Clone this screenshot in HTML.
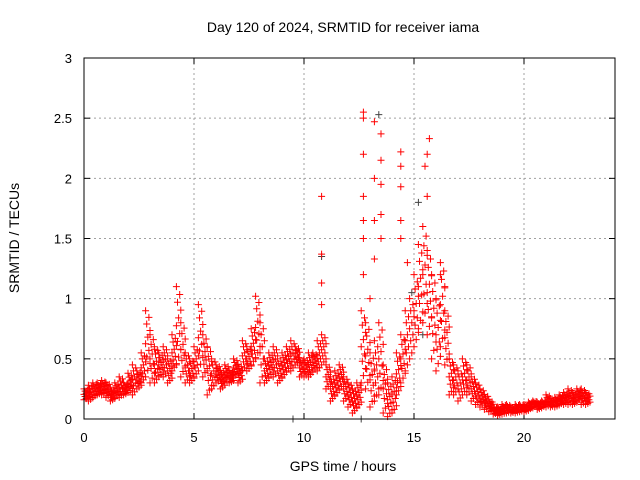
<!DOCTYPE html>
<html><head><meta charset="utf-8"><style>
body{margin:0;background:#fff}
svg{display:block;font-family:"Liberation Sans",sans-serif}
</style></head><body>
<svg id="c" width="640" height="480">
<text x="343" y="32" text-anchor="middle" font-size="14">Day 120 of 2024, SRMTID for receiver iama</text>
<text x="343" y="471" text-anchor="middle" font-size="14">GPS time / hours</text>
<text transform="translate(19,238) rotate(-90)" text-anchor="middle" font-size="14">SRMTID / TECUs</text>
<g id="grid"></g><g id="ticks"></g><g id="pts"></g>
<rect x="84" y="58" width="531" height="361" fill="none" stroke="#000" stroke-width="1"/>
</svg>
<script>
const xTicks=[0,5,10,15,20];
const yTicks=[0,0.5,1,1.5,2,2.5,3];
const yTickLabels=["0","0.5","1","1.5","2","2.5","3"];
const times=[0,0.2,0.4,0.6,0.8,1,1.2,1.4,1.6,1.8,2,2.2,2.4,2.6,2.8,3,3.2,3.4,3.6,3.8,4,4.2,4.4,4.6,4.8,5,5.2,5.4,5.6,5.8,6,6.2,6.4,6.6,6.8,7,7.2,7.4,7.6,7.8,8,8.2,8.4,8.6,8.8,9,9.2,9.4,9.6,9.8,10,10.2,10.4,10.6,10.8,11,11.2,11.4,11.6,11.8,12,12.2,12.4,12.6,12.8,13,13.2,13.4,13.6,13.8,14,14.2,14.4,14.6,14.8,15,15.2,15.4,15.6,15.8,16,16.2,16.4,16.6,16.8,17,17.2,17.4,17.6,17.8,18,18.2,18.4,18.6,18.8,19,19.2,19.4,19.6,19.8,20,20.2,20.4,20.6,20.8,21,21.2,21.4,21.6,21.8,22,22.2,22.4,22.6,22.8];
const lowVals=[.16,.15,.18,.2,.2,.18,.15,.18,.18,.2,.22,.2,.25,.3,.35,.3,.3,.35,.35,.3,.4,.45,.35,.3,.3,.35,.4,.35,.2,.25,.3,.25,.3,.3,.35,.3,.4,.4,.45,.5,.3,.3,.35,.35,.3,.35,.4,.4,.45,.35,.35,.35,.4,.4,.45,.25,.15,.2,.25,.15,.1,.05,.1,.3,.25,.1,.15,.2,.05,.02,.05,.2,.3,.4,.5,.6,.75,.8,.7,.5,.4,.6,.45,.2,.2,.15,.2,.2,.15,.12,.1,.08,.06,.04,.03,.04,.05,.05,.05,.06,.06,.08,.1,.08,.1,.1,.1,.1,.12,.12,.12,.12,.15,.12,.12];
const highVals=[.25,.28,.3,.3,.32,.3,.25,.3,.35,.3,.38,.45,.4,.55,.9,.7,.6,.55,.6,.5,.7,1.1,.8,.55,.5,.6,.95,.7,.6,.5,.45,.4,.45,.4,.5,.45,.65,.6,.75,1.02,.8,.5,.55,.6,.5,.55,.6,.65,.6,.5,.5,.55,.55,.65,.7,.45,.35,.4,.45,.35,.3,.25,.3,.9,.8,.55,.65,.8,.45,.3,.35,.55,.7,.9,1,1.2,1.45,1.6,1.4,1.2,1,1.3,.9,.5,.45,.4,.5,.45,.35,.3,.25,.2,.15,.1,.1,.12,.12,.1,.12,.12,.12,.14,.15,.14,.15,.2,.16,.18,.2,.22,.25,.22,.25,.25,.22];
const spikeTimes=[10.8,10.8,10.8,10.8,12.7,12.7,12.7,12.7,12.7,12.7,12.7,13.2,13.2,13.2,13.2,13.5,13.5,13.5,13.5,13.5,14.4,14.4,14.4,14.4,14.4,15.7,15.6,15.5,15.6,16.2,16.4,14.7,13.0];
const spikeVals=[1.85,1.37,1.13,.95,2.55,2.5,2.2,1.85,1.65,1.5,1.2,2.47,2,1.65,1.33,2.37,2.15,1.95,1.7,1.5,2.22,2.1,1.93,1.65,1.5,2.33,2.2,2.1,1.85,1.2,1.1,1.3,1];
const grayTimes=[9.5,12.6,13.4,15.2,10.8,14.9,15.4];
const grayVals=[0,0,2.53,1.8,1.35,1.05,.7];
const X=t=>84+t*22, Y=v=>419-v*120.33;
const NS="http://www.w3.org/2000/svg";
function mk(tag,parent,attrs){const e=document.createElementNS(NS,tag);for(const k in attrs)e.setAttribute(k,attrs[k]);parent.appendChild(e);return e;}
const grid=document.getElementById('grid'),ticks=document.getElementById('ticks'),pts=document.getElementById('pts');
xTicks.forEach(t=>{
 if(t>0){const g=mk('line',grid,{x1:X(t),x2:X(t),y1:58,y2:419,stroke:'#a0a0a0','stroke-dasharray':'2,3'});
 
 }
 mk('line',ticks,{x1:X(t),x2:X(t),y1:419,y2:413,stroke:'#000'});
 mk('line',ticks,{x1:X(t),x2:X(t),y1:58,y2:64,stroke:'#000'});
 const l=mk('text',ticks,{x:X(t),y:442,'text-anchor':'middle','font-size':13});l.textContent=t;
 
 
});
yTicks.forEach((v,i)=>{
 if(v>0&&v<3){const g=mk('line',grid,{x1:84,x2:615,y1:Y(v),y2:Y(v),stroke:'#a0a0a0','stroke-dasharray':'2,3'});
 
 }
 mk('line',ticks,{x1:84,x2:90,y1:Y(v),y2:Y(v),stroke:'#000'});
 mk('line',ticks,{x1:615,x2:609,y1:Y(v),y2:Y(v),stroke:'#000'});
 const l=mk('text',ticks,{x:72,y:Y(v)+5,'text-anchor':'end','font-size':13});l.textContent=yTickLabels[i];
 
 
});
function plus(x,y){return `M${x-3.5} ${y}h7M${x} ${y-3.5}v7`;}
let gd='';grayTimes.forEach((t,i)=>{gd+=plus(X(t),Y(grayVals[i]));});
const gp=mk('path',pts,{d:gd,stroke:'#444',fill:'none','stroke-width':1});


let d='';
const fracs=[0,0.1,0.2,0.3,0.4,0.5,0.6,0.7,0.8,0.9,1];
const offs=[0,2.2,4.4,1.1,3.3];
times.forEach((t,i)=>{
 const lo=lowVals[i],hi=highVals[i];
 fracs.forEach((k,j)=>{d+=plus(X(t)+offs[j%5],Y(lo+(hi-lo)*k));});
});
spikeTimes.forEach((t,i)=>{d+=plus(X(t),Y(spikeVals[i]));});
const rp=mk('path',pts,{d:d,stroke:'#f00',fill:'none','stroke-width':1});


</script>
</body></html>
